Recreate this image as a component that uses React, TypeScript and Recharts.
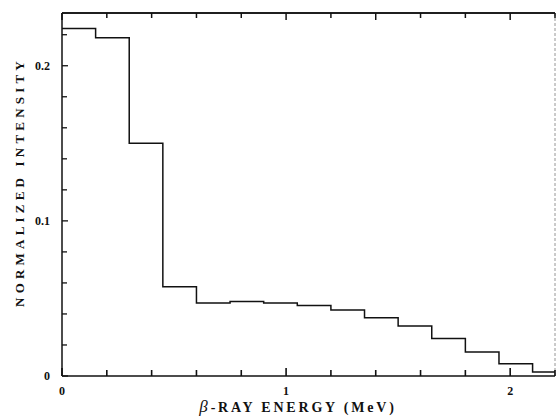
import React from "react";
import {
  LineChart,
  Line,
  XAxis,
  YAxis,
  ReferenceLine,
} from "recharts";

// bin edges in MeV (last value is the right end of the final bin)
const binEdges = [0, 0.15, 0.3, 0.45, 0.6, 0.75, 0.9, 1.05, 1.2, 1.35, 1.5, 1.65, 1.8, 1.95, 2.1, 2.2];
// normalized intensity per bin
const intensity = [
  0.224, 0.218, 0.150, 0.0575, 0.047, 0.048, 0.047, 0.0455,
  0.0425, 0.0376, 0.0323, 0.0241, 0.0155, 0.0079, 0.0026,
];
const xTicks = [0, 0.2, 0.4, 0.6, 0.8, 1, 1.2, 1.4, 1.6, 1.8, 2, 2.2];
const xLabels = [0, 1, 2];
const yTicks = [0, 0.02, 0.04, 0.06, 0.08, 0.1, 0.12, 0.14, 0.16, 0.18, 0.2, 0.22];
const yLabels = ["0", "0.1", "0.2"];
const yMax = 0.234;
const xMax = 2.2;

const data = binEdges.map((e, i) => ({
  energy: e,
  value: intensity[Math.min(i, intensity.length - 1)],
}));

const INK = "#111";
const FONT = "'Liberation Serif', 'DejaVu Serif', serif";

const isLabel = (v: number, list: number[]) =>
  list.some((l) => Math.abs(l - v) < 1e-6);

// ticks point inward, like the original plot
const BottomTick = ({ x, y, payload }: any) => {
  const major = isLabel(payload.value, xLabels);
  return (
    <g>
      <line x1={x} x2={x} y1={y} y2={y - (major ? 8 : 6)} stroke={INK} strokeWidth={1.6} />
      {major && (
        <text x={x} y={y + 19} textAnchor="middle" fontFamily={FONT} fontWeight="bold" fontSize={12} fill={INK}>
          {payload.value}
        </text>
      )}
    </g>
  );
};

const TopTick = ({ x, y, payload }: any) => {
  const major = isLabel(payload.value, xLabels) || Math.abs(payload.value - 1.4) < 1e-6;
  return <line x1={x} x2={x} y1={y} y2={y + (major ? 7 : 5)} stroke={INK} strokeWidth={1.5} />;
};

const LeftTick = ({ x, y, payload }: any) => {
  const v = payload.value;
  const idx = [0, 0.1, 0.2].findIndex((l) => Math.abs(l - v) < 1e-6);
  return (
    <g>
      <line x1={x} x2={x + (idx >= 0 ? 6 : 5)} y1={y} y2={y} stroke={INK} strokeWidth={1.3} />
      {idx >= 0 && (
        <text x={x - 12} y={y + 4} textAnchor="end" fontFamily={FONT} fontWeight="bold" fontSize={12} fill={INK}>
          {yLabels[idx]}
        </text>
      )}
    </g>
  );
};

export default function App() {
  return (
    <div style={{ position: "absolute", left: 0, top: 0, width: 556, height: 416, background: "#fff" }}>
      <LineChart
        width={556}
        height={416}
        data={data}
        margin={{ top: 12, right: 0, left: 0, bottom: 0 }}
      >
        <XAxis
          dataKey="energy"
          type="number"
          domain={[0, xMax]}
          ticks={xTicks}
          interval={0}
          height={40}
          tickSize={0}
          tickMargin={0}
          stroke={INK}
          strokeWidth={1.5}
          tick={<BottomTick />}
        />
        <XAxis
          xAxisId="top"
          orientation="top"
          dataKey="energy"
          type="number"
          domain={[0, xMax]}
          ticks={xTicks}
          interval={0}
          height={1}
          tickSize={0}
          tickMargin={0}
          stroke={INK}
          strokeWidth={1.5}
          tick={<TopTick />}
        />
        <YAxis
          type="number"
          domain={[0, yMax]}
          ticks={yTicks}
          interval={0}
          width={62}
          tickSize={0}
          tickMargin={0}
          stroke={INK}
          strokeWidth={1.5}
          tick={<LeftTick />}
        />
        <YAxis
          yAxisId="right"
          orientation="right"
          type="number"
          domain={[0, yMax]}
          width={1}
          tick={false}
          tickLine={false}
          axisLine={false}
        />
        <ReferenceLine y={yMax} stroke={INK} strokeWidth={1.5} ifOverflow="visible" />
        <ReferenceLine x={xMax} stroke="#8a8a8a" strokeWidth={0.9} strokeDasharray="3 2" ifOverflow="visible" />
        <Line
          type="stepAfter"
          dataKey="value"
          stroke={INK}
          strokeWidth={1.5}
          dot={false}
          isAnimationActive={false}
        />
        <text
          x={19}
          y={182}
          transform="rotate(-90 19 182)"
          textAnchor="middle"
          dominantBaseline="central"
          fontFamily={FONT}
          fontWeight="bold"
          fontSize={13}
          letterSpacing={4.2}
          fill={INK}
        >
          NORMALIZED INTENSITY
        </text>
        <text
          x={298}
          y={412}
          textAnchor="middle"
          fontFamily={FONT}
          fontWeight="bold"
          fontSize={14}
          letterSpacing={2.8}
          fill={INK}
        >
          <tspan fontStyle="italic" fontSize={17} fontWeight="normal">β</tspan>
          -RAY ENERGY (MeV)
        </text>
      </LineChart>
    </div>
  );
}
